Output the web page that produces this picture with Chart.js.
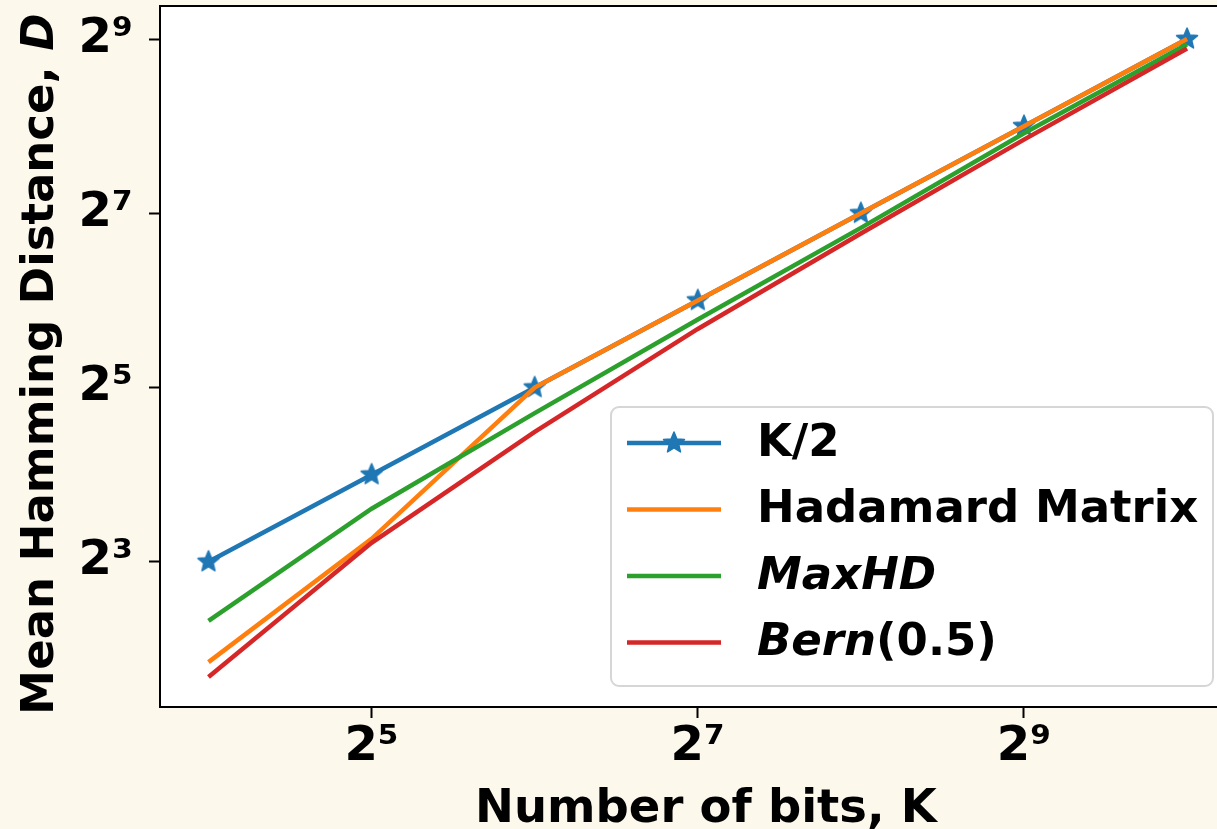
<!DOCTYPE html>
<html>
<head>
<meta charset="utf-8">
<script src="https://cdn.jsdelivr.net/npm/chart.js@4.4.0/dist/chart.umd.min.js"></script>
<style>
  html, body { margin: 0; padding: 0; background: #fdf8ec; }
  #wrap { width: 1217px; height: 829px; }
</style>
</head>
<body>
<div id="wrap"><canvas id="chart" width="1217" height="829"></canvas></div>
<script>
// number of bits K and the mean Hamming distance of each code family
const bits = [16, 32, 64, 128, 256, 512, 1024];
const halfK = [8, 16, 32, 64, 128, 256, 512];
const hadamard = [3.6, 9.6, 32, 64, 128, 256, 512];
const maxHD = [5.0, 12.2, 26.1, 55, 114, 242, 491];
const bern = [3.2, 9.3, 22.5, 51, 109, 230, 475];

const xTickValues = [32, 128, 512];
const xTickLabels = ['2⁵', '2⁷', '2⁹'];
const yTickValues = [8, 32, 128, 512];
const yTickLabels = ['2³', '2⁵', '2⁷', '2⁹'];

const COLORS = ['#1f77b4', '#ff7f0e', '#2ca02c', '#d62728'];
const FONT = 'DejaVu Sans';

function toPoints(values) {
    return bits.map((k, i) => ({ x: k, y: values[i] }));
}

// filled five-point star, used as point style
function makeStar(color, r) {
    const size = Math.ceil(r * 2 + 4);
    const c = document.createElement('canvas');
    c.width = size;
    c.height = size;
    const g = c.getContext('2d');
    g.translate(size / 2, size / 2);
    starPath(g, r);
    g.fillStyle = color;
    g.fill();
    g.lineJoin = 'round';
    g.lineWidth = 1.5;
    g.strokeStyle = color;
    g.stroke();
    return c;
}

function starPath(g, r) {
    g.beginPath();
    for (let i = 0; i < 10; i++) {
        const rad = i % 2 === 0 ? r : r * 0.45;
        const a = -Math.PI / 2 + i * Math.PI / 5;
        g.lineTo(rad * Math.cos(a), rad * Math.sin(a));
    }
    g.closePath();
}

const star = makeStar(COLORS[0], 11);

// legend entries: text pieces with their font style
const legendRows = [
    { parts: [['K/2', 'bold']], color: COLORS[0], marker: true },
    { parts: [['Hadamard Matrix', 'bold']], color: COLORS[1] },
    { parts: [['MaxHD', 'italic bold']], color: COLORS[2] },
    { parts: [['Bern', 'italic bold'], ['(0.5)', 'bold']], color: COLORS[3] }
];

const plotBackground = {
    id: 'plotBackground',
    beforeDraw(chart) {
        const { ctx, chartArea: a } = chart;
        ctx.save();
        ctx.fillStyle = '#ffffff';
        ctx.fillRect(a.left, a.top, a.right - a.left, a.bottom - a.top);
        ctx.restore();
    }
};

const frameAndText = {
    id: 'frameAndText',
    afterDraw(chart) {
        const { ctx, chartArea: a } = chart;
        ctx.save();

        // top spine
        ctx.strokeStyle = '#000';
        ctx.lineWidth = 2;
        ctx.beginPath();
        ctx.moveTo(a.left - 1, a.top);
        ctx.lineTo(a.right, a.top);
        ctx.stroke();

        // x axis title
        ctx.fillStyle = '#000';
        ctx.font = `bold 46.5px "${FONT}"`;
        ctx.textAlign = 'center';
        ctx.textBaseline = 'alphabetic';
        ctx.fillText('Number of bits, K', 706, 822);

        // y axis title, rotated, with italic D
        ctx.save();
        ctx.translate(53, 364);
        ctx.rotate(-Math.PI / 2);
        ctx.textAlign = 'left';
        const pieces = [['Mean Hamming Distance, ', 'bold'], ['D', 'italic bold']];
        let total = 0;
        pieces.forEach(([t, s]) => {
            ctx.font = `${s} 45px "${FONT}"`;
            total += ctx.measureText(t).width;
        });
        let x = -total / 2;
        pieces.forEach(([t, s]) => {
            ctx.font = `${s} 45px "${FONT}"`;
            ctx.fillText(t, x, 0);
            x += ctx.measureText(t).width;
        });
        ctx.restore();

        // legend box
        const bx = 611, by = 407, bw = 602, bh = 279;
        ctx.beginPath();
        ctx.roundRect(bx, by, bw, bh, 8);
        ctx.fillStyle = 'rgba(255,255,255,0.8)';
        ctx.fill();
        ctx.strokeStyle = '#d6d6d6';
        ctx.lineWidth = 2;
        ctx.stroke();

        ctx.textAlign = 'left';
        ctx.textBaseline = 'middle';
        legendRows.forEach((row, i) => {
            const y = 443 + i * 66.5;
            ctx.strokeStyle = row.color;
            ctx.lineWidth = 4.5;
            ctx.beginPath();
            ctx.moveTo(627, y);
            ctx.lineTo(721, y);
            ctx.stroke();
            if (row.marker) {
                ctx.drawImage(star, 674 - star.width / 2, y - star.height / 2);
            }
            let tx = 757;
            ctx.fillStyle = '#000';
            row.parts.forEach(([t, s]) => {
                ctx.font = `${s} 45px "${FONT}"`;
                ctx.fillText(t, tx, y + 1);
                tx += ctx.measureText(t).width;
            });
        });

        ctx.restore();
    }
};

function lineSet(label, values, color, order, extra) {
    return Object.assign({
        label,
        data: toPoints(values),
        borderColor: color,
        backgroundColor: color,
        borderWidth: 4.5,
        pointRadius: 0,
        tension: 0,
        order
    }, extra || {});
}

const tickFont = { family: FONT, size: 48, weight: 'bold' };

new Chart(document.getElementById('chart'), {
    type: 'line',
    data: {
        datasets: [
            lineSet('K/2', halfK, COLORS[0], 4, { pointStyle: star, pointRadius: 10, pointHoverRadius: 10 }),
            lineSet('Hadamard Matrix', hadamard, COLORS[1], 3),
            lineSet('MaxHD', maxHD, COLORS[2], 2),
            lineSet('Bern(0.5)', bern, COLORS[3], 1)
        ]
    },
    options: {
        responsive: false,
        devicePixelRatio: 1,
        animation: false,
        layout: { autoPadding: false, padding: { top: 6, right: 0, bottom: 0, left: 0 } },
        plugins: {
            legend: { display: false },
            tooltip: { enabled: false }
        },
        scales: {
            x: {
                type: 'logarithmic',
                position: 'bottom',
                min: 13.02,
                max: 1163,
                afterBuildTicks: (scale) => {
                    scale.ticks = xTickValues.map(v => ({ value: v }));
                },
                afterFit: (scale) => {
                    scale.height = 122;
                    scale.paddingLeft = 0;
                    scale.paddingRight = 0;
                },
                ticks: {
                    autoSkip: false,
                    maxRotation: 0,
                    padding: 1,
                    color: '#000',
                    font: tickFont,
                    callback: (v) => xTickLabels[xTickValues.indexOf(v)]
                },
                grid: {
                    drawOnChartArea: false,
                    tickLength: 11,
                    tickColor: '#000',
                    tickWidth: 2
                },
                border: { display: true, color: '#000', width: 2 }
            },
            y: {
                type: 'logarithmic',
                min: 2.52,
                max: 666,
                afterBuildTicks: (scale) => {
                    scale.ticks = yTickValues.map(v => ({ value: v }));
                },
                afterFit: (scale) => {
                    scale.width = 160;
                    scale.paddingTop = 0;
                    scale.paddingBottom = 0;
                },
                ticks: {
                    autoSkip: false,
                    padding: 16,
                    color: '#000',
                    font: tickFont,
                    callback: (v) => yTickLabels[yTickValues.indexOf(v)]
                },
                grid: {
                    drawOnChartArea: false,
                    tickLength: 11,
                    tickColor: '#000',
                    tickWidth: 2
                },
                border: { display: true, color: '#000', width: 2 }
            }
        }
    },
    plugins: [plotBackground, frameAndText]
});
</script>
</body>
</html>
